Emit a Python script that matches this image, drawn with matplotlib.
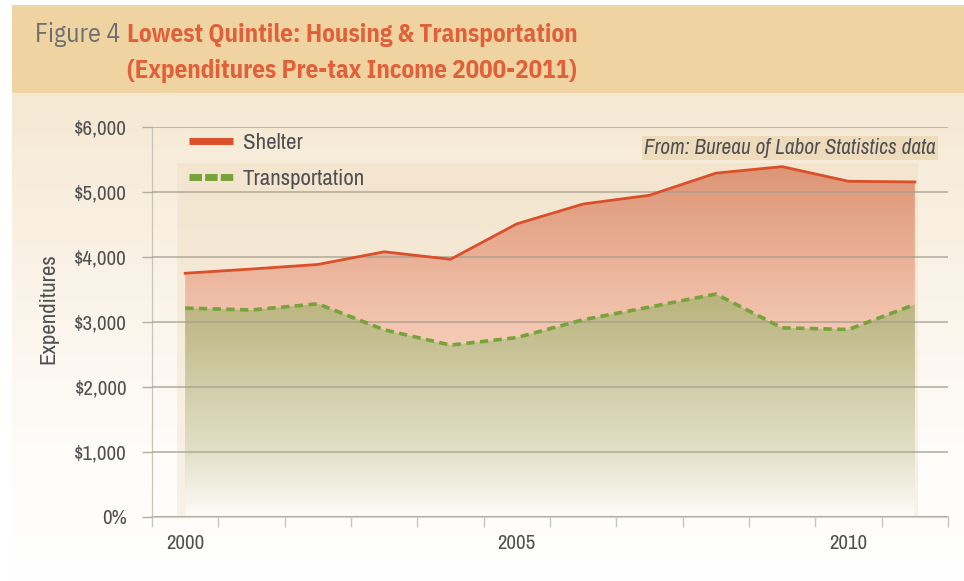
import numpy as np
import matplotlib
matplotlib.use("Agg")
import matplotlib.pyplot as plt
from matplotlib.colors import LinearSegmentedColormap, to_rgb
from matplotlib.lines import Line2D
from matplotlib.patches import Rectangle

# data
years = [2000, 2001, 2002, 2003, 2004, 2005, 2006, 2007, 2008, 2009, 2010, 2011]
shelter = [3750, 3815, 3885, 4080, 3965, 4510, 4815, 4950, 5290, 5390, 5165, 5155]
transport = [3215, 3185, 3280, 2880, 2645, 2760, 3035, 3230, 3430, 2910, 2885, 3270]
yticks = [0, 1000, 2000, 3000, 4000, 5000, 6000]
ytick_labels = ["0%", "$1,000", "$2,000", "$3,000", "$4,000", "$5,000", "$6,000"]
xlabel_years = [2000, 2005, 2010]

FONT = ["Archivo Narrow", "Barlow Condensed", "DejaVu Sans"]
TFONT = ["IBM Plex Sans Condensed", "Barlow Condensed", "DejaVu Sans"]
TXT = "#505052"
W, H = 964, 581

fig = plt.figure(figsize=(W / 100, H / 100), dpi=100)
fig.patch.set_facecolor("white")

# parchment background panel (title band + fading body)
bg = fig.add_axes([12 / W, 0, 1 - 12 / W, 1 - 5 / H])
bg.axis("off")
rows = np.arange(H - 5)
img = np.ones((len(rows), 1, 3))
band = rows < 88
img[band] = np.array(to_rgb("#efd4a2"))
body = np.array([to_rgb("#f6e9d3"), to_rgb("#faf2e6"), to_rgb("#fefcf9"), to_rgb("#ffffff")])
stops = [88, 260, 440, 576]
for c in range(3):
    img[~band, 0, c] = np.interp(rows[~band], stops, body[:, c])
bg.imshow(img, aspect="auto", extent=[0, 1, 0, 1])
bg.set_xlim(0, 1)
bg.set_ylim(0, 1)

ax = fig.add_axes([152 / W, (H - 517) / H, (948 - 152) / W, (517 - 127) / H])
ax.set_facecolor("none")
x = np.arange(len(years))


def grad_fill(ax, x, lo, hi, top, cstops, z):
    poly = ax.fill_between(x, lo, hi, color="none", lw=0)
    cmap = LinearSegmentedColormap.from_list("g", cstops)
    im = ax.imshow(np.linspace(0, 1, 256).reshape(-1, 1), cmap=cmap, aspect="auto",
                   extent=[x[0], x[-1], 0, top], origin="lower", zorder=z)
    im.set_clip_path(poly.get_paths()[0], transform=ax.transData)


# soft plot-area panel behind the data
ax.add_patch(Rectangle((-0.12, 0), len(years) - 1 + 0.17, 5446,
                       facecolor="#e9d3ae", alpha=0.28, lw=0, zorder=0.5))

grad_fill(ax, x, 0, shelter, max(shelter),
          [(0, "#f9e0d2"), (0.5, "#f5cbb6"), (1, "#dd9576")], 1)
grad_fill(ax, x, 0, transport, max(transport),
          [(0, "#fdfcf8"), (0.3, "#e2dfc7"), (1, "#b9b37c")], 1.1)

ax.plot(x, shelter, color="#d9502a", lw=2.0, zorder=5)
ax.plot(x, transport, color="#78a23a", lw=2.6, ls=(0, (2.3, 1.5)), zorder=5)

ax.set_xlim(-0.5, len(years) - 0.5)
ax.set_ylim(0, 6000)
ax.set_axisbelow(False)

ax.set_yticks(yticks)
ax.set_yticklabels(ytick_labels, family=FONT, fontsize=15, color=TXT)
ax.yaxis.grid(True, color="#a59d8e", lw=1.1, alpha=0.85)
ax.tick_params(axis="y", length=7.5, width=1.0, color="#b5ae9f", pad=10.5)

ax.set_xticks(np.arange(len(years) + 1) - 0.5)
ax.set_xticklabels([])
ax.set_xticks([years.index(y) for y in xlabel_years], minor=True)
ax.set_xticklabels([str(y) for y in xlabel_years], minor=True,
                   family=FONT, fontsize=15, color=TXT)
ax.tick_params(axis="x", which="major", length=7.5, width=1.0, color="#c6c6c6")
ax.tick_params(axis="x", which="minor", length=0, pad=12)

for s in ["top", "right"]:
    ax.spines[s].set_visible(False)
ax.spines["left"].set_color("#c9c3b8")
ax.spines["left"].set_linewidth(0.9)
ax.spines["bottom"].set_color("#d2d2d2")
ax.spines["bottom"].set_linewidth(1.6)

handles = [Line2D([], [], color="#d9502a", lw=5, solid_capstyle="butt"),
           Line2D([], [], color="#78a23a", lw=5, ls=(0, (1.8, 0.45)), dash_capstyle="butt")]
leg = ax.legend(handles, ["Shelter", "Transportation"], loc="upper left",
                bbox_to_anchor=(189 / W, 1 - 133 / H), bbox_transform=fig.transFigure,
                frameon=False, borderpad=0, borderaxespad=0, handlelength=1.9,
                handletextpad=0.45, labelspacing=0.7,
                prop={"family": FONT, "size": 16.5})
for t in leg.get_texts():
    t.set_color(TXT)

fig.text(936 / W, 1 - 148 / H, "From: Bureau of Labor Statistics data", ha="right", va="center",
         family=FONT, style="italic", fontsize=15.3, color=TXT,
         bbox=dict(facecolor="#ecd8b6", edgecolor="none", pad=1.5, alpha=0.8))

fig.text(48 / W, 1 - 309 / H, "Expenditures", rotation=90, ha="center", va="center",
         family=FONT, fontsize=16.5, color=TXT)

# title
fig.text(120 / W, 1 - 42 / H, "Figure 4", ha="right", va="baseline",
         family=TFONT, fontsize=18.5, color="#6d6e71")
fig.text(127 / W, 1 - 42 / H, "Lowest Quintile: Housing & Transportation", ha="left",
         va="baseline", family=TFONT, fontsize=18, weight="bold", color="#e0603a")
fig.text(127 / W, 1 - 78 / H, "(Expenditures Pre-tax Income 2000-2011)", ha="left",
         va="baseline", family=TFONT, fontsize=18, weight="bold", color="#e0603a")

fig.savefig("out.png", dpi=100, facecolor=fig.get_facecolor())
